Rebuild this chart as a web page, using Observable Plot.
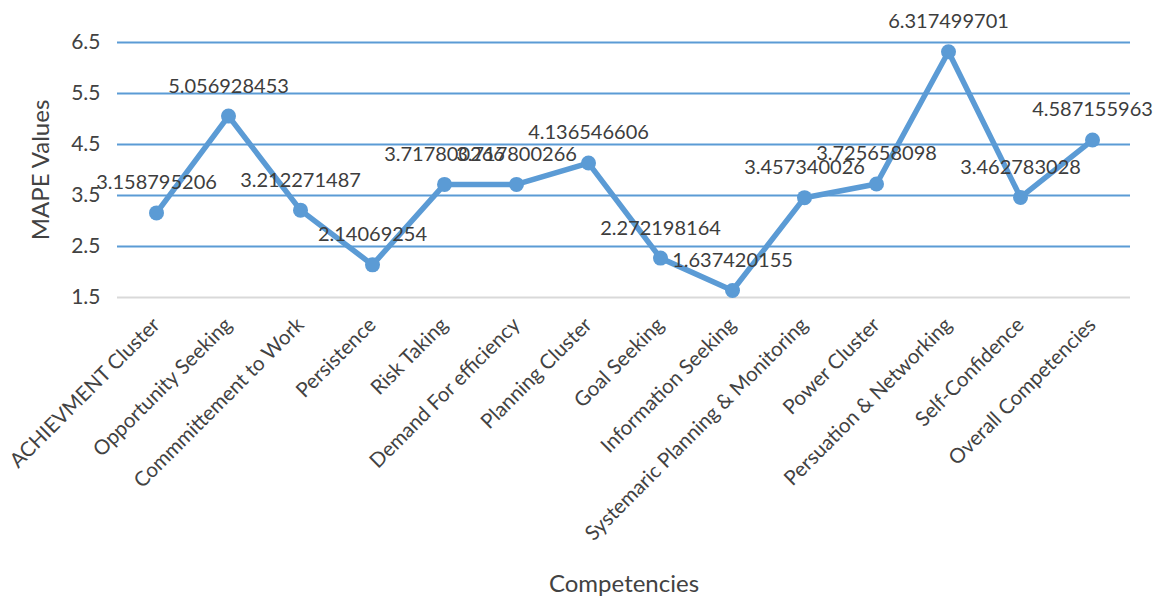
<!DOCTYPE html>
<html>
<head>
<meta charset="utf-8">
<script src="https://cdn.jsdelivr.net/npm/d3@7"></script>
<script src="https://cdn.jsdelivr.net/npm/@observablehq/plot@0.6"></script>
<style>
  html, body { margin: 0; padding: 0; background: #ffffff; }
  #chart { width: 1156px; height: 598px; }
</style>
</head>
<body>
<div id="chart"></div>
<script>
const categories = [
  "ACHIEVMENT Cluster",
  "Opportunity Seeking",
  "Commmittement to Work",
  "Persistence",
  "Risk Taking",
  "Demand For efficiency",
  "Planning Cluster",
  "Goal Seeking",
  "Information Seeking",
  "Systemaric Planning & Monitoring",
  "Power Cluster",
  "Persuation & Networking",
  "Self-Confidence",
  "Overall Competencies"
];
const mapeValues = [
  3.158795206, 5.056928453, 3.212271487, 2.14069254, 3.717800266, 3.717800266,
  4.136546606, 2.272198164, 1.637420155, 3.457340026, 3.725658098, 6.317499701,
  3.462783028, 4.587155963
];
const yTicks = [1.5, 2.5, 3.5, 4.5, 5.5, 6.5];
const blueGrid = [2.5, 3.5, 4.5, 5.5, 6.5];
const grayGrid = [1.5];

const data = categories.map((c, i) => ({category: c, value: mapeValues[i]}));

const FONT = "Lato, 'Open Sans', sans-serif";
const BLUE = "#5b9bd5";
const TEXT = "#424242";

const chart = Plot.plot({
  width: 1156,
  height: 598,
  marginLeft: 117,
  marginRight: 26,
  marginTop: 42,
  marginBottom: 301,
  style: {fontFamily: FONT, fontSize: "20px", color: TEXT, background: "#ffffff", overflow: "visible"},
  x: {type: "point", domain: categories, padding: 0.5},
  y: {domain: [1.5, 6.5]},
  marks: [
    Plot.ruleY(blueGrid, {stroke: BLUE, strokeWidth: 2}),
    Plot.ruleY(grayGrid, {stroke: "#d9d9d9", strokeWidth: 2}),
    Plot.axisX({tickRotate: -45, tickSize: 0, tickPadding: 24, fontSize: 20.5, fill: TEXT, label: null}),
    Plot.axisX({ticks: [], tickSize: 0, label: "Competencies", labelAnchor: "center", labelOffset: 294, labelArrow: "none", fontSize: 24, fill: TEXT}),
    Plot.axisY({ticks: yTicks, tickFormat: d => d.toFixed(1), tickSize: 0, tickPadding: 17, fontSize: 21, fill: TEXT, label: null}),
    Plot.axisY({ticks: [], tickSize: 0, label: "MAPE Values", labelAnchor: "center", labelOffset: 86, labelArrow: "none", fontSize: 24, fill: TEXT}),
    Plot.line(data, {x: "category", y: "value", stroke: BLUE, strokeWidth: 5.5, strokeLinejoin: "round"}),
    Plot.dot(data, {x: "category", y: "value", r: 7.5, fill: BLUE, stroke: "none"}),
    Plot.text(data, {x: "category", y: "value", text: d => String(d.value), dy: -30, fontSize: 20, fill: "#3d3d3d", fontFamily: FONT})
  ]
});
document.getElementById("chart").appendChild(chart);
</script>
</body>
</html>
